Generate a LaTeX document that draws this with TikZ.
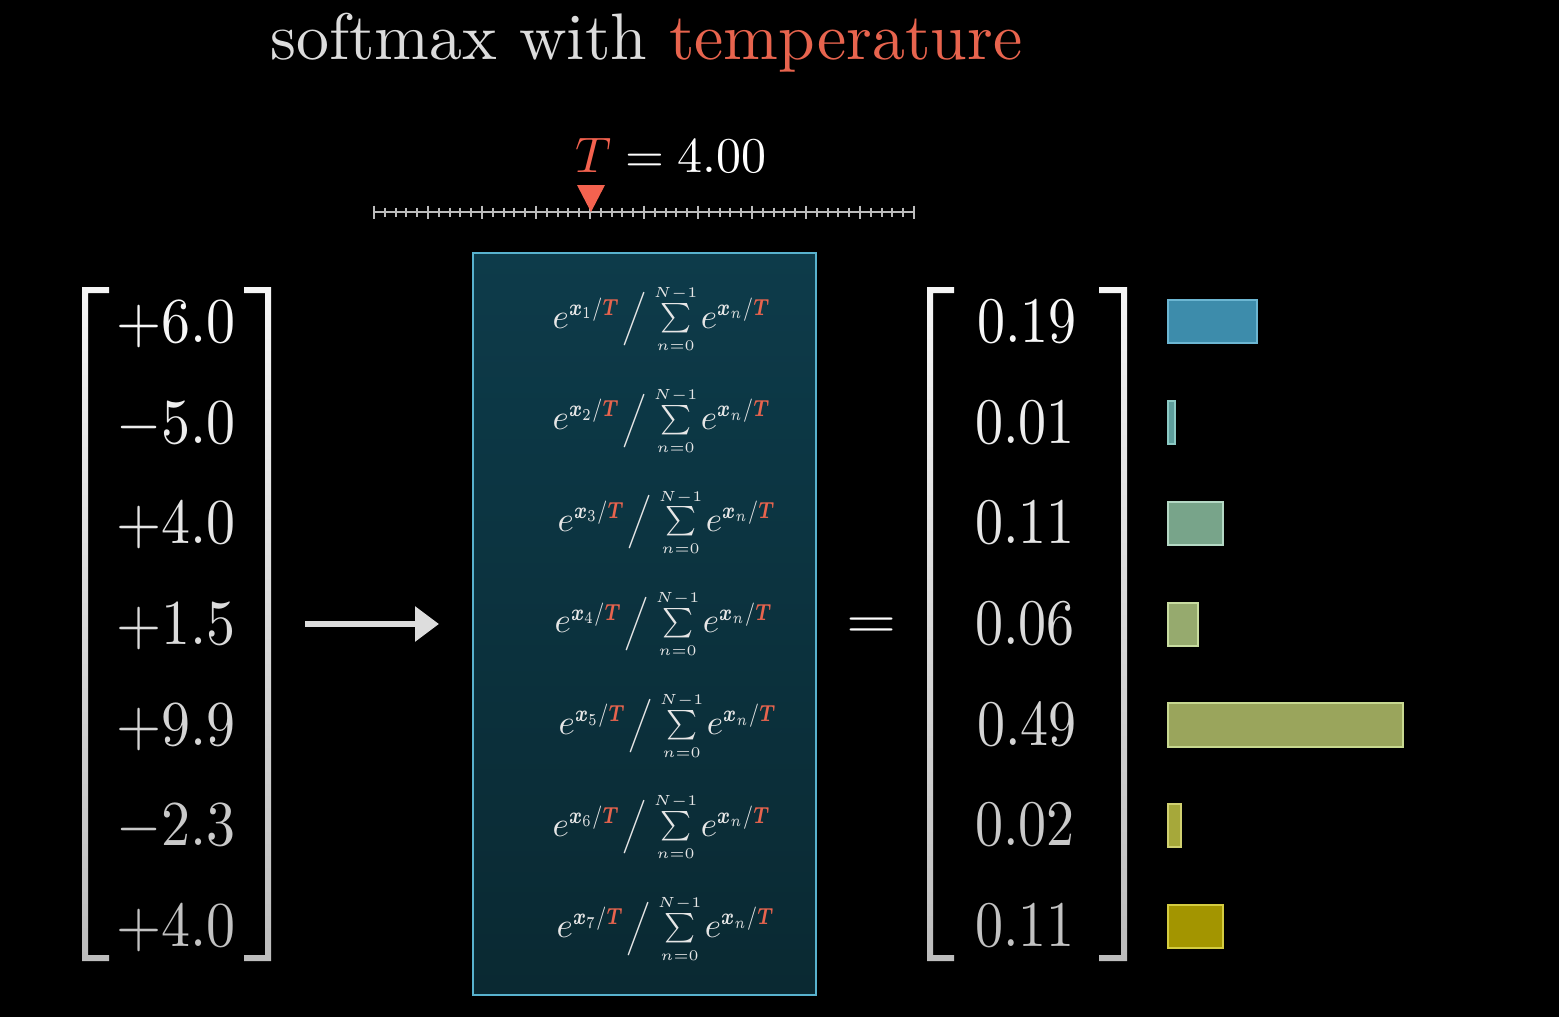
\documentclass[tikz,border=0pt]{standalone}
\usepackage{amsmath}
\usepackage{graphicx}
\usetikzlibrary{arrows.meta}
\definecolor{tred}{HTML}{E8644E}
\definecolor{markc}{HTML}{F4624F}
\definecolor{boxtop}{HTML}{0D3B4A}
\definecolor{boxbot}{HTML}{0A2932}
\definecolor{boxline}{HTML}{58B2CE}
\definecolor{titlec}{HTML}{DCDCDC}
\definecolor{tickc}{HTML}{BBBBBB}
\definecolor{arrc}{HTML}{DDDDDD}
\definecolor{fmc}{HTML}{E6E6E6}
\definecolor{bfa}{HTML}{3D8CAB}\definecolor{bda}{HTML}{6CB6D2}
\definecolor{bfb}{HTML}{5E9E9C}\definecolor{bdb}{HTML}{8CCAC4}
\definecolor{bfc}{HTML}{78A48A}\definecolor{bdc}{HTML}{B4D8C4}
\definecolor{bfd}{HTML}{96AA6E}\definecolor{bdd}{HTML}{C8DCA0}
\definecolor{bfe}{HTML}{9AA55C}\definecolor{bde}{HTML}{C8D890}
\definecolor{bff}{HTML}{A6A83A}\definecolor{bdf}{HTML}{D0D070}
\definecolor{bfg}{HTML}{A39500}\definecolor{bdg}{HTML}{D4CC40}
\newcommand{\sumlim}[1]{\hbox to 0pt{\hss$\scriptscriptstyle #1$\hss}}
\newcommand{\expo}[1]{e^{\hbox{\scalebox{0.73}[0.95]{$\scriptstyle\boldsymbol{x}_{#1}/{\color{tred}\boldsymbol{T}}$}}}}
\newcommand{\smx}[1]{\expo{#1}\mskip1mu\mathord{\vcenter{\hbox{\scalebox{0.85}{$\Big/$}}}}\mskip4mu\mathop{\vcenter{\hbox{\scalebox{0.84}{$\sum\limits_{\sumlim{n=0}}^{\sumlim{N-1}}$}}}}\mskip2mu\expo{n}}
\begin{document}
\begin{tikzpicture}[x=0.5pt,y=-0.5pt,
  bignum/.style={anchor=base west,inner sep=0pt,xscale=2.9,yscale=3.2},
  rnum/.style={anchor=base west,inner sep=0pt,xscale=2.8,yscale=3.25},
  fml/.style={anchor=base west,inner sep=0pt,scale=1.75,text=fmc},
  brk/.style={top color=black!4!white,bottom color=black!26!white,draw=none},
  bar/.style={line width=0.8pt},
  tickline/.style={draw=tickc,line width=1pt}]
\fill[black] (0,0) rectangle (1559,1017);
\useasboundingbox (0,0) rectangle (1559,1017);

% title
\node[anchor=base west,inner sep=0pt,scale=3.29,text=titlec] (title) at (269,60) {softmax with \textcolor{tred}{temperature}};

% temperature value and slider
\node[anchor=base west,inner sep=0pt,scale=2.5,text=white] (tval) at (574,172) {$\textcolor{markc}{T} = 4.00$};
\coordinate (sl0) at (374,212);
\coordinate (sl1) at (914,212);
\draw[tickline] (sl0) -- (sl1);
\foreach \i in {0,...,50}{
  \pgfmathsetmacro\xx{374+10.8*\i}
  \pgfmathtruncatemacro\mm{mod(\i,5)}
  \ifnum\mm=0
    \draw[tickline] (\xx,205.5) -- (\xx,218.5);
  \else
    \draw[tickline] (\xx,207.5) -- (\xx,216.5);
  \fi
}
\fill[markc] (577,185) -- (605,185) -- (591,212) -- cycle;

% left vector brackets
\shade[brk] (82,287) -- (109,287) -- (109,293) -- (88,293) -- (88,955) -- (109,955) -- (109,961) -- (82,961) -- cycle;
\shade[brk] (271,287) -- (244,287) -- (244,293) -- (265,293) -- (265,955) -- (244,955) -- (244,961) -- (271,961) -- cycle;
\foreach \i/\v/\c in {1/+6.0/97,2/-5.0/93,3/+4.0/90,4/+1.5/86,5/+9.9/83,6/-2.3/79,7/+4.0/76}{
  \node[bignum,text=white!\c!black] (l\i) at (115,{342.5+100.67*(\i-1)}) {$\v$};
}

% arrow
\coordinate (arrS) at (305,624);
\coordinate (arrE) at (439,624);
\draw[arrc,line width=3pt,-{Triangle[length=12pt,width=17pt]}] (arrS) -- (arrE);

% softmax box
\shade[top color=boxtop,bottom color=boxbot] (473,253) rectangle (816,995);
\draw[boxline,line width=1.25pt] (473,253) rectangle (816,995);
\foreach \i/\xo in {1/552,2/552,3/557,4/554,5/558,6/552,7/556}{
  \node[fml] (f\i) at (\xo,{328+101.6*(\i-1)}) {$\smx{\i}$};
}

% equals
\node[anchor=base,inner sep=0pt,xscale=3.22,yscale=2.8,text=white] (eq) at (871.5,638.5) {$=$};

% right vector brackets
\shade[brk] (927,287) -- (954,287) -- (954,293) -- (933,293) -- (933,955) -- (954,955) -- (954,961) -- (927,961) -- cycle;
\shade[brk] (1127,287) -- (1099,287) -- (1099,293) -- (1121,293) -- (1121,955) -- (1099,955) -- (1099,961) -- (1127,961) -- cycle;
\foreach \i/\v/\xo/\c in {1/0.19/976/97,2/0.01/974/93,3/0.11/974/90,4/0.06/974/86,5/0.49/976/83,6/0.02/974/79,7/0.11/974/76}{
  \node[rnum,text=white!\c!black] (r\i) at (\xo,{342.5+100.67*(\i-1)}) {$\v$};
}

% bars
\filldraw[bar,fill=bfa,draw=bda] (1168,300) rectangle (1257,343);
\filldraw[bar,fill=bfb,draw=bdb] (1168,401) rectangle (1175,444);
\filldraw[bar,fill=bfc,draw=bdc] (1168,502) rectangle (1223,545);
\filldraw[bar,fill=bfd,draw=bdd] (1168,603) rectangle (1198,646);
\filldraw[bar,fill=bfe,draw=bde] (1168,703) rectangle (1403,747);
\filldraw[bar,fill=bff,draw=bdf] (1168,804) rectangle (1181,847);
\filldraw[bar,fill=bfg,draw=bdg] (1168,905) rectangle (1223,948);
\end{tikzpicture}
\end{document}
